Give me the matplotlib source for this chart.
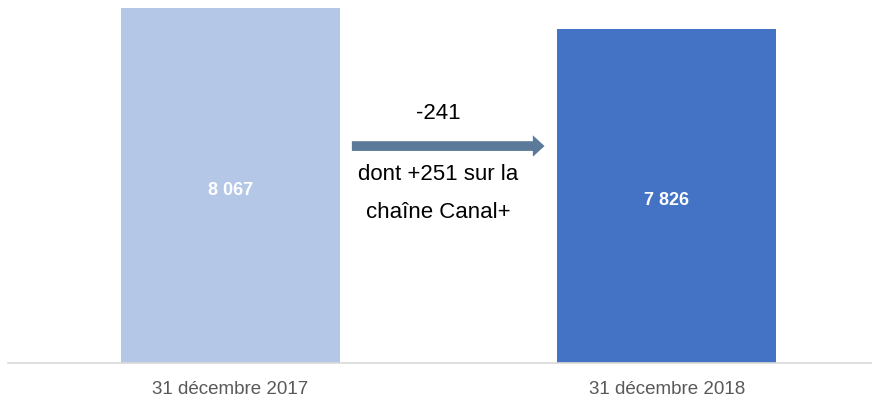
import matplotlib
matplotlib.use("Agg")
import matplotlib.pyplot as plt

dates = ["31 décembre 2017", "31 décembre 2018"]
effectifs = [8067, 7826]
labels = ["8 067", "7 826"]
variation = "-241"
detail = ["dont +251 sur la", "chaîne Canal+"]

couleurs = ["#B4C7E7", "#4472C4"]
police = ["Liberation Sans", "DejaVu Sans"]

fig = plt.figure(figsize=(8.72, 4.06), dpi=100, facecolor="white")
ax = fig.add_axes([8 / 872, 1 - 364 / 406, 864 / 872, 364 / 406])

x = range(len(effectifs))
ax.bar(x, effectifs, width=0.502, color=couleurs, zorder=2)
for xi, v, lab in zip(x, effectifs, labels):
    ax.text(xi, (4000 + v) / 2 - 45, lab, ha="center", va="center", color="white",
            fontsize=13, fontweight="bold", family=police)

ax.set_xlim(-0.51, 1.47)
ax.set_ylim(4000, 8170)

ax.set_xticks(list(x))
ax.set_xticklabels(dates, family=police, fontsize=13.5, color="#595959")
ax.tick_params(axis="x", length=0, pad=12)
ax.set_yticks([])
for s in ["top", "right", "left"]:
    ax.spines[s].set_visible(False)
ax.spines["bottom"].set_color("#D9D9D9")
ax.spines["bottom"].set_linewidth(1.2)

# flèche de variation
ax.annotate("", xy=(0.621, 0.596), xytext=(0.398, 0.596),
            xycoords="axes fraction",
            arrowprops=dict(arrowstyle="simple,head_length=0.6,head_width=1.1,tail_width=0.5",
                            color="#5B7A9A", lw=0, shrinkA=0, shrinkB=0,
                            mutation_scale=14))
ax.text(0.498, 0.688, variation, transform=ax.transAxes, ha="center",
        va="center", fontsize=16, family=police, color="black")
ax.text(0.498, 0.520, detail[0], transform=ax.transAxes, ha="center",
        va="center", fontsize=16, family=police, color="black")
ax.text(0.498, 0.416, detail[1], transform=ax.transAxes, ha="center",
        va="center", fontsize=16, family=police, color="black")

fig.savefig("out.png", dpi=100, facecolor="white")
